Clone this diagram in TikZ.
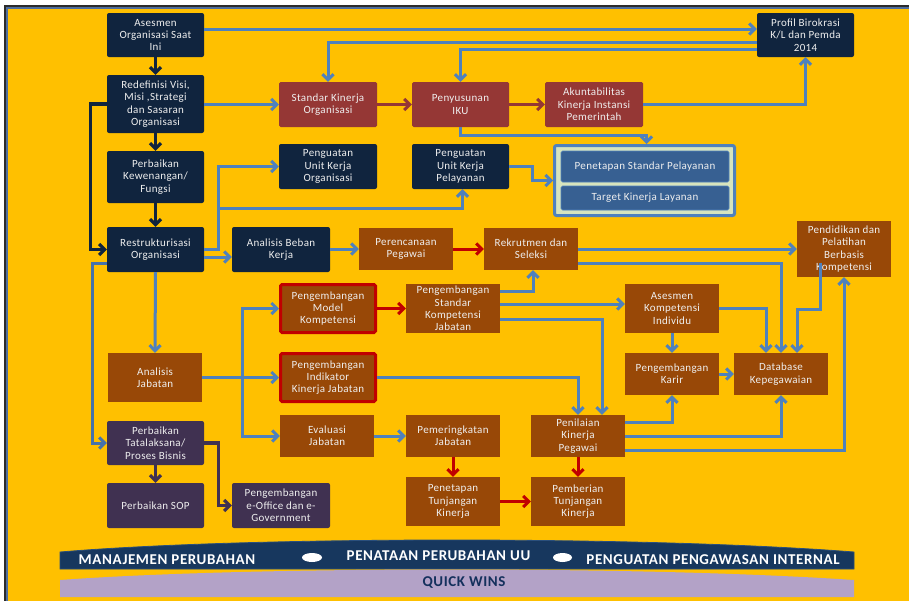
\documentclass[tikz,border=0pt]{standalone}
\usepackage{fontspec}
\setmainfont{Carlito}
\newfontfamily\boxfont{Carlito}[LetterSpace=3]
\newfontfamily\bandfont{Carlito}[LetterSpace=4]
\usetikzlibrary{arrows.meta}
\definecolor{bg}{HTML}{FFC000}
\definecolor{navy}{HTML}{10243E}
\definecolor{rbrown}{HTML}{953735}
\definecolor{brn}{HTML}{984807}
\definecolor{purp}{HTML}{403151}
\definecolor{arrblue}{HTML}{4F81BD}
\definecolor{arrblue2}{HTML}{4672AA}
\definecolor{arrred}{HTML}{C00000}
\definecolor{spblue}{HTML}{376092}
\definecolor{spgreen}{HTML}{D7E4BD}
\definecolor{bandnavy}{HTML}{17375E}
\definecolor{bandedge}{HTML}{2A4F7C}
\definecolor{bandpurp}{HTML}{B3A2C7}
\definecolor{qwtext}{HTML}{14305C}
\definecolor{txt}{HTML}{EFEFEF}
\definecolor{framegray}{HTML}{2B2B2B}
\definecolor{frameblue}{HTML}{4F6E9D}
\newcommand\bx[7]{\node[#6, minimum width={#4-#2}, minimum height={#5-#3}] (#1) at ({(#2+#4)/2},{(#3+#5)/2}) {#7};}
\tikzset{
  box/.style={inner sep=0pt, align=center, text=txt, font=\boxfont\fontsize{11}{12.3}\selectfont},
  navybox/.style={box, fill=navy, rounded corners=2pt},
  rbbox/.style={box, fill=rbrown, rounded corners=1.5pt},
  brbox/.style={box, fill=brn},
  rfbox/.style={box, fill=brn, draw=arrred, line width=3pt, rounded corners=1.5pt},
  ppbox/.style={box, fill=purp, rounded corners=2pt},
  spinner/.style={box, fill=spblue, draw=arrblue, line width=0.6pt, rounded corners=1.5pt},
  conn/.style={line width=3pt, -{Straight Barb[length=5.5pt,width=11pt]}},
  bl/.style={conn, draw=arrblue},
  bltwo/.style={conn, draw=arrblue2},
  rd/.style={conn, draw=arrred},
  rbr/.style={conn, draw=rbrown},
  nv/.style={conn, draw=navy, line width=3.2pt},
  pp/.style={conn, draw=purp, line width=3.2pt},
  bandtxt/.style={text=white, font=\bandfont\fontsize{15}{15}\bfseries\selectfont, inner sep=0pt},
}
\begin{document}
\begin{tikzpicture}[x=1pt,y=-1pt]
\useasboundingbox (0,0) rectangle (909,600);
% frame
\fill[framegray] (4,5) rectangle (915,610);
\fill[frameblue] (5.5,7) rectangle (915,610);
\fill[bg] (8.3,9) rectangle (915,610);

% nodes
\bx{asesmen}{107}{13}{204}{57}{navybox}{Asesmen\\Organisasi Saat\\Ini}
\bx{redef}{107}{75}{204}{133}{navybox}{Redefinisi Visi,\\Misi ,Strategi\\dan Sasaran\\Organisasi}
\bx{kewen}{107}{151}{204}{203}{navybox}{Perbaikan\\Kewenangan/\\Fungsi}
\bx{restr}{107}{227}{204}{272}{navybox}{Restrukturisasi\\Organisasi}
\bx{stdkin}{279}{82}{377}{127}{rbbox}{Standar Kinerja\\Organisasi}
\bx{iku}{412}{82}{509}{127}{rbbox}{Penyusunan\\IKU}
\bx{akun}{545}{82}{643}{127}{rbbox}{Akuntabilitas\\Kinerja Instansi\\Pemerintah}
\bx{profil}{757}{13}{854}{57}{navybox}{Profil Birokrasi\\K/L dan Pemda\\2014}
\bx{pko}{279}{144}{377}{189}{navybox}{Penguatan\\Unit Kerja\\Organisasi}
\bx{pkp}{412}{144}{509}{189}{navybox}{Penguatan\\Unit Kerja\\Pelayanan}
\bx{abk}{232}{227}{330}{272}{navybox}{Analisis Beban\\Kerja}
\bx{perenc}{359}{228}{453}{270}{brbox}{Perencanaan\\Pegawai}
\bx{rekrut}{484}{228}{578}{270}{brbox}{Rekrutmen dan\\Seleksi}
\bx{pend}{797}{221}{891}{277}{brbox}{Pendidikan dan\\Pelatihan\\Berbasis\\Kompetensi}
\bx{model}{280.5}{284.5}{375.5}{332.5}{rfbox}{Pengembangan\\Model\\Kompetensi}
\bx{skj}{406}{284}{500}{333}{brbox}{Pengembangan\\Standar\\Kompetensi\\Jabatan}
\bx{aki}{625}{284}{719}{333}{brbox}{Asesmen\\Kompetensi\\Individu}
\bx{anjab}{108}{353}{202}{402}{brbox}{Analisis\\Jabatan}
\bx{ind}{280.5}{353.5}{375.5}{401.5}{rfbox}{Pengembangan\\Indikator\\Kinerja Jabatan}
\bx{karir}{625}{353}{719}{395}{brbox}{Pengembangan\\Karir}
\bx{db}{734}{353}{828}{395}{brbox}{Database\\Kepegawaian}
\bx{tatal}{107}{421}{204}{465}{ppbox}{Perbaikan\\Tatalaksana/\\Proses Bisnis}
\bx{evj}{280}{415}{374}{457}{brbox}{Evaluasi\\Jabatan}
\bx{pemer}{406}{415}{500}{457}{brbox}{Pemeringkatan\\Jabatan}
\bx{pk}{531}{415}{625}{457}{brbox}{Penilaian\\Kinerja\\Pegawai}
\bx{sop}{107}{483}{204}{528}{ppbox}{Perbaikan SOP}
\bx{eoff}{232}{483}{330}{528}{ppbox}{Pengembangan\\e-Office dan e-\\Government}
\bx{penet}{406}{477}{500}{526}{brbox}{Penetapan\\Tunjangan\\Kinerja}
\bx{pemb}{531}{477}{625}{526}{brbox}{Pemberian\\Tunjangan\\Kinerja}

% Standar pelayanan group
\node[draw=arrblue, line width=3pt, fill=spgreen, rounded corners=2pt, minimum width=180, minimum height=70, inner sep=0pt] (spbox) at (644.5,180.5) {};
\bx{psp}{561}{151}{729}{182}{spinner}{Penetapan Standar Pelayanan}
\bx{tkl}{561}{186}{729}{210}{spinner}{Target Kinerja Layanan}

% connectors: top
\draw[nv] (asesmen.south) -- (redef.north);
\draw[bl] (asesmen.east |- 0,29) -- (profil.west |- 0,29);
\draw[bl] (profil.west |- 0,42) -| (stdkin.north);
\draw[bl] (profil.west |- 0,49) -| (iku.north);
\draw[bl] (redef.east |- stdkin.west) -- (stdkin.west);
\draw[rbr] (stdkin.east) -- (iku.west);
\draw[rbr] (iku.east) -- (akun.west);
\draw[bl] (akun.east) -| (profil.south);
\draw[bl] (iku.south) -- (iku.south |- 0,135) -| ([xshift=2]spbox.north);
\draw[nv] (redef.south) -- (kewen.north);
\draw[nv] (kewen.south) -- (restr.north);
\draw[nv] (redef.west) -- ++(-16,0) |- (restr.west);
\draw[bltwo] (restr.west |- 0,263) -- ++(-14,0) |- (tatal.west);
\draw[bl] (restr.east |- 0,249) -- ++(14,0) |- (pko.west);
\draw[bl] (restr.east |- 0,249) -- ++(14,0) |- ([xshift=2]pkp.south |- 0,208) -- ([xshift=2]pkp.south);
\draw[bl] (restr.east |- 0,257) -- (abk.west |- 0,257);
\draw[bl] (restr.south) -- (anjab.north);
\draw[bl] (pkp.east) -- ++(23,0) |- (spbox.west);
% middle
\draw[bl] (abk.east |- perenc.west) -- (perenc.west);
\draw[rd] (perenc.east) -- (rekrut.west);
\draw[bl] (rekrut.east) -- (pend.west |- rekrut.east);
\draw[bl] (rekrut.east |- 0,263) -| (db.north);
\draw[bl] (aki.east) -| ([xshift=-15]db.north);
\draw[bl] ([xshift=-24,yshift=14]pend.south) -- ++(0,46) -| ([xshift=16]db.north);
\draw[bl] (pk.east |- 0,450) -| (pend.south);
\draw[bl] (pk.east |- 0,436) -| (db.south);
\draw[bl] (pk.east |- 0,422) -| (karir.south);
\draw[bl] (aki.south) -- (karir.north);
\draw[bl] (karir.east) -- (db.west);
\draw[bl] (skj.east |- 0,291) -| ([xshift=2]rekrut.south);
\draw[bl] (skj.east |- 0,304) -- (aki.west |- 0,304);
\draw[bl] (skj.east |- 0,319) -| ([xshift=24]pk.north);
\draw[bl] (ind.east) -| (pk.north);
\draw[rd] (model.east) -- (skj.west);
\draw[bl] (anjab.east) -- (ind.west);
\draw[bl] ([xshift=40]anjab.east) |- (model.west);
\draw[bl] ([xshift=40]anjab.east) |- (evj.west);
\draw[bl] (evj.east) -- (pemer.west);
\draw[rd] (pemer.south) -- (penet.north);
\draw[rd] (pk.south) -- (pemb.north);
\draw[rd] (penet.east) -- (pemb.west);
\draw[pp] (tatal.south) -- (sop.north);
\draw[pp] (tatal.east) -- ++(14,0) |- (eoff.west);

% bottom bands
\filldraw[fill=bandnavy, draw=bandedge, line width=0.8pt] (60,552) .. controls (250,536) and (650,536) .. (854,552) -- (854,569) -- (60,569) -- cycle;
\fill[bandpurp] (60,580) .. controls (250,566) and (650,566) .. (854,580) -- (854,597) -- (60,597) -- cycle;
\node[bandtxt] (mp) at (167,559.5) {MANAJEMEN PERUBAHAN};
\node[bandtxt] (ppu) at (438.5,556) {PENATAAN PERUBAHAN UU};
\node[bandtxt] (ppi) at (713,559.5) {PENGUATAN PENGAWASAN INTERNAL};
\fill[white] (312,557.5) ellipse [x radius=10, y radius=4.5];
\fill[white] (562.5,557.5) ellipse [x radius=9.5, y radius=4.5];
\node[bandtxt, text=qwtext] (qw) at (464,583) {QUICK WINS};
\end{tikzpicture}
\end{document}
